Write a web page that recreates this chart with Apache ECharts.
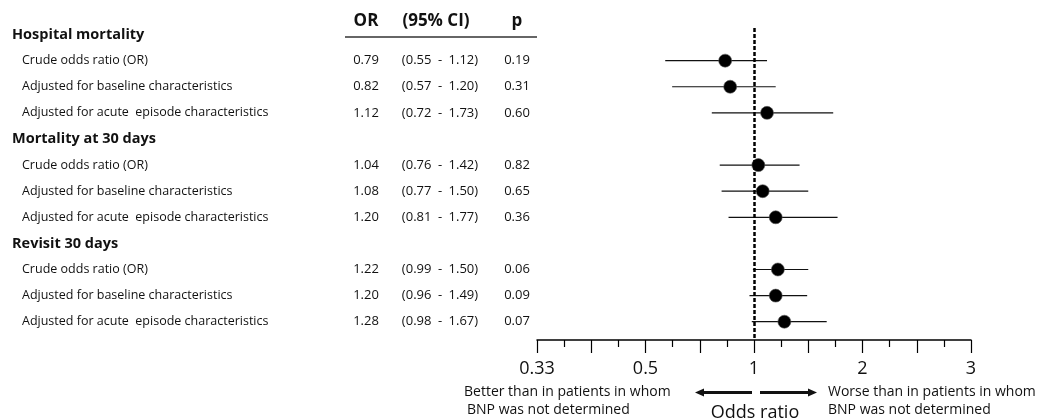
<!DOCTYPE html>
<html>
<head>
<meta charset="utf-8">
<script src="https://cdn.jsdelivr.net/npm/echarts@6/dist/echarts.min.js"></script>
<style>
html, body { margin: 0; padding: 0; background: #fff; }
#chart { width: 1045px; height: 420px; }
</style>
</head>
<body>
<div id="chart"></div>
<script>
var groupNames = ['Hospital mortality', 'Mortality at 30 days', 'Revisit 30 days'];
var itemNames = ['Crude odds ratio (OR)', 'Adjusted for baseline characteristics', 'Adjusted for acute  episode characteristics'];
var orValues = [0.79, 0.82, 1.12, 1.04, 1.08, 1.20, 1.22, 1.20, 1.28];
var ciLow = [0.55, 0.57, 0.72, 0.76, 0.77, 0.81, 0.99, 0.96, 0.98];
var ciHigh = [1.12, 1.20, 1.73, 1.42, 1.50, 1.77, 1.50, 1.49, 1.67];
var pValues = ['0.19', '0.31', '0.60', '0.82', '0.65', '0.36', '0.06', '0.09', '0.07'];
var tickValues = [-2, -1, 0, 1, 2];
var tickLabels = ['0.33', '0.5', '1', '2', '3'];

var FONT = '"Open Sans", sans-serif';

// odds ratio -> axis position (0.5 and 2 are the same distance from 1)
function toAxis(v) {
    return v >= 1 ? v - 1 : 1 - 1 / v;
}

var rowText = [];
var points = [];
var ciData = [];
groupNames.forEach(function(g, gi) {
    rowText.push('{h|' + g + '}');
    itemNames.forEach(function(n, k) {
        var i = gi * 3 + k;
        var row = rowText.length;
        rowText.push('{n|' + n + '}{or|' + orValues[i].toFixed(2) + '}{ci|(' +
            ciLow[i].toFixed(2) + '\u2002-\u2002' + ciHigh[i].toFixed(2) + ')}{p|' + pValues[i] + '}');
        points.push([toAxis(orValues[i]), row]);
        ciData.push([toAxis(ciLow[i]), toAxis(ciHigh[i]), row]);
    });
});
var rowIndex = rowText.map(function(t, i) { return i; });

var chart = echarts.init(document.getElementById('chart'));
var option = {
    animation: false,
    textStyle: { fontFamily: FONT },
    grid: {
        left: 537,
        right: 74,
        top: 28,
        bottom: 80,
        outerBoundsMode: 'none'
    },
    xAxis: {
        type: 'value',
        min: -2,
        max: 2,
        interval: 0.5,
        axisLine: { onZero: false, lineStyle: { color: '#000', width: 1.5 } },
        axisTick: { length: 13, lineStyle: { color: '#000', width: 1.2 } },
        minorTick: { show: true, splitNumber: 2, length: 7, lineStyle: { color: '#000', width: 1.2 } },
        splitLine: { show: false },
        axisLabel: {
            fontSize: 18,
            color: '#111',
            fontFamily: FONT,
            margin: 20,
            formatter: function(v) {
                var k = tickValues.indexOf(v);
                return k < 0 ? '' : tickLabels[k];
            }
        }
    },
    yAxis: {
        type: 'value',
        inverse: true,
        min: -0.25,
        max: 11.7,
        axisLine: { show: false, onZero: false },
        axisTick: { show: false },
        splitLine: { show: false },
        axisLabel: {
            customValues: rowIndex,
            align: 'left',
            margin: 525,
            formatter: function(v) { return rowText[v] || ''; },
            rich: {
                h: { fontSize: 14.5, fontWeight: 'bold', color: '#111', fontFamily: FONT },
                n: { fontSize: 12.5, color: '#111', width: 320, padding: [0, 0, 0, 10], fontFamily: FONT },
                or: { fontSize: 13, color: '#111', width: 48, align: 'center', fontFamily: FONT },
                ci: { fontSize: 13, color: '#111', width: 100, align: 'center', fontFamily: FONT },
                p: { fontSize: 13, color: '#111', width: 54, align: 'center', fontFamily: FONT }
            }
        }
    },
    series: [{
        type: 'custom',
        encode: { x: [0, 1], y: 2 },
        renderItem: function(params, api) {
            var a = api.coord([api.value(0), api.value(2)]);
            var b = api.coord([api.value(1), api.value(2)]);
            return {
                type: 'line',
                shape: { x1: a[0], y1: a[1], x2: b[0], y2: b[1] },
                style: { stroke: '#111', lineWidth: 1.2 }
            };
        },
        data: ciData,
        z: 2
    }, {
        type: 'scatter',
        symbolSize: 13,
        itemStyle: { color: '#000', opacity: 1, borderColor: '#555', borderWidth: 0.6 },
        data: points,
        z: 3,
        markLine: {
            silent: true,
            symbol: 'none',
            label: { show: false },
            lineStyle: { color: '#000', type: [4, 2], width: 2.5 },
            data: [{ xAxis: 0 }]
        }
    }],
    graphic: [
        { type: 'text', x: 366, y: 21, style: { text: 'OR', font: 'bold 17px ' + FONT, fill: '#111', align: 'center', verticalAlign: 'middle' } },
        { type: 'text', x: 436, y: 21, style: { text: '(95% CI)', font: 'bold 17px ' + FONT, fill: '#111', align: 'center', verticalAlign: 'middle' } },
        { type: 'text', x: 517, y: 21, style: { text: 'p', font: 'bold 17px ' + FONT, fill: '#111', align: 'center', verticalAlign: 'middle' } },
        { type: 'line', shape: { x1: 345, y1: 37, x2: 537, y2: 37 }, style: { stroke: '#333', lineWidth: 1.5 } },

        { type: 'text', x: 464, y: 392, style: { text: 'Better than in patients in whom', font: '14px ' + FONT, fill: '#111', verticalAlign: 'middle' } },
        { type: 'text', x: 467, y: 410, style: { text: 'BNP was not determined', font: '14px ' + FONT, fill: '#111', verticalAlign: 'middle' } },
        { type: 'text', x: 828, y: 392, style: { text: 'Worse than in patients in whom', font: '14px ' + FONT, fill: '#111', verticalAlign: 'middle' } },
        { type: 'text', x: 828, y: 410, style: { text: 'BNP was not determined', font: '14px ' + FONT, fill: '#111', verticalAlign: 'middle' } },
        { type: 'text', x: 755, y: 413, style: { text: 'Odds ratio', font: '18px ' + FONT, fill: '#111', align: 'center', verticalAlign: 'middle' } },

        // arrows
        { type: 'rect', shape: { x: 703, y: 391, width: 49, height: 3 }, style: { fill: '#111' } },
        { type: 'polygon', shape: { points: [[695, 392.5], [704, 388.5], [704, 396.5]] }, style: { fill: '#111' } },
        { type: 'rect', shape: { x: 760, y: 391, width: 49, height: 3 }, style: { fill: '#111' } },
        { type: 'polygon', shape: { points: [[817, 392.5], [808, 388.5], [808, 396.5]] }, style: { fill: '#111' } }
    ]
};
chart.setOption(option);
</script>
</body>
</html>
